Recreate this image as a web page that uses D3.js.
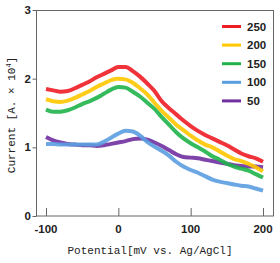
<!DOCTYPE html>
<html>
<head>
<meta charset="utf-8">
<script src="https://cdn.jsdelivr.net/npm/d3@7"></script>
<style>
  body { margin: 0; background: #fff; }
  svg { display: block; }
</style>
</head>
<body>
<div id="chart"></div>
<script>
// potential (mV)
var potentials = [-100, -90, -80, -70, -60, -50, -40, -30, -20, -10, 0, 10, 20, 30, 40, 50, 60, 70, 80, 90, 100, 110, 120, 130, 140, 150, 160, 170, 180, 190, 200];

var s250 = [1.85, 1.83, 1.81, 1.82, 1.86, 1.91, 1.96, 2.02, 2.07, 2.12, 2.17, 2.17, 2.11, 2.03, 1.93, 1.82, 1.67, 1.57, 1.48, 1.39, 1.31, 1.24, 1.18, 1.13, 1.08, 1.03, 0.97, 0.91, 0.87, 0.84, 0.79];
var s200 = [1.70, 1.67, 1.66, 1.68, 1.72, 1.77, 1.82, 1.88, 1.93, 1.98, 2.00, 1.99, 1.94, 1.86, 1.77, 1.65, 1.53, 1.43, 1.33, 1.25, 1.17, 1.10, 1.04, 1.00, 0.94, 0.88, 0.83, 0.80, 0.76, 0.71, 0.65];
var s150 = [1.55, 1.52, 1.52, 1.54, 1.58, 1.63, 1.67, 1.72, 1.78, 1.84, 1.88, 1.87, 1.81, 1.74, 1.65, 1.56, 1.44, 1.33, 1.22, 1.13, 1.06, 1.00, 0.94, 0.87, 0.82, 0.76, 0.72, 0.69, 0.66, 0.61, 0.56];
var s100 = [1.05, 1.05, 1.04, 1.04, 1.04, 1.04, 1.04, 1.04, 1.08, 1.14, 1.20, 1.24, 1.23, 1.17, 1.08, 1.01, 0.95, 0.88, 0.79, 0.72, 0.67, 0.63, 0.58, 0.53, 0.50, 0.48, 0.46, 0.44, 0.43, 0.40, 0.37];
var s50  = [1.15, 1.10, 1.07, 1.05, 1.04, 1.03, 1.03, 1.02, 1.03, 1.05, 1.07, 1.09, 1.12, 1.13, 1.11, 1.07, 1.02, 0.96, 0.90, 0.86, 0.85, 0.84, 0.82, 0.80, 0.78, 0.76, 0.74, 0.73, 0.72, 0.72, 0.71];

var seriesNames = ["250", "200", "150", "100", "50"];
var seriesColors = ["#ee1c25", "#ffc800", "#1fb24a", "#5b9ee0", "#7030a0"];

var xTicks = [-100, 0, 100, 200];
var yTicks = [0, 1, 2, 3];

var width = 280, height = 263;
var svg = d3.select("#chart").append("svg")
  .attr("width", width)
  .attr("height", height);

var x = d3.scaleLinear().domain([-100, 200]).range([46, 263]);
var y = d3.scaleLinear().domain([0, 3]).range([216, 10]);

// 外框
svg.append("rect")
  .attr("x", 36.5).attr("y", 10.5)
  .attr("width", 237).attr("height", 205.5)
  .attr("fill", "none")
  .attr("stroke", "#666")
  .attr("stroke-width", 1);

var tickFont = "'Liberation Sans', Arial, sans-serif";

// x axis, ticks inside
var xAxis = svg.append("g")
  .attr("transform", "translate(0,216)")
  .call(d3.axisTop(x).tickValues(xTicks).tickSize(8).tickFormat(""));
xAxis.select(".domain").remove();
xAxis.selectAll("line").attr("stroke", "#666");
svg.append("g").selectAll("text")
  .data(xTicks)
  .enter()
  .append("text")
  .attr("x", function (d) { return x(d); })
  .attr("y", 233)
  .attr("text-anchor", "middle")
  .style("font-family", tickFont)
  .style("font-weight", "bold")
  .style("font-size", "11.5px")
  .attr("fill", "#222")
  .text(function (d) { return d; });

// y axis, ticks outside
var yAxis = svg.append("g")
  .attr("transform", "translate(36.5,0)")
  .call(d3.axisLeft(y).tickValues(yTicks).tickSize(4).tickFormat(""));
yAxis.select(".domain").remove();
yAxis.selectAll("line").attr("stroke", "#666");
svg.append("g").selectAll("text")
  .data(yTicks)
  .enter()
  .append("text")
  .attr("x", 31)
  .attr("y", function (d) { return y(d) + 4; })
  .attr("text-anchor", "end")
  .style("font-family", tickFont)
  .style("font-weight", "bold")
  .style("font-size", "11.5px")
  .attr("fill", "#222")
  .text(function (d) { return d; });

// axis titles
var titleFont = "'Liberation Mono', 'DejaVu Sans Mono', monospace";
svg.append("text")
  .attr("x", 150)
  .attr("y", 254)
  .attr("text-anchor", "middle")
  .style("font-family", titleFont)
  .style("font-size", "11px")
  .attr("fill", "#222")
  .text("Potential[mV vs. Ag/AgCl]");

var yTitle = svg.append("text")
  .attr("transform", "translate(15,115) rotate(-90)")
  .attr("text-anchor", "middle")
  .style("font-family", titleFont)
  .style("font-size", "11px")
  .attr("fill", "#222");
yTitle.append("tspan").text("Current [A. \u00d7 10");
yTitle.append("tspan").attr("dy", -4).style("font-size", "7px").text("4");
yTitle.append("tspan").attr("dy", 4).text("]");

// lines
var allSeries = [s250, s200, s150, s100, s50];
var line = d3.line()
  .x(function (d, i) { return x(potentials[i]); })
  .y(function (d) { return y(d); })
  .curve(d3.curveMonotoneX);

svg.append("g")
  .selectAll("path")
  .data(allSeries.slice().reverse())
  .enter()
  .append("path")
  .attr("d", function (d) { return line(d); })
  .attr("fill", "none")
  .attr("stroke", function (d, i) { return seriesColors[seriesColors.length - 1 - i]; })
  .attr("stroke-width", 4)
  .attr("stroke-linejoin", "round")
  .attr("stroke-opacity", 0.9);

// legend
var legend = svg.append("g")
  .selectAll("g")
  .data(seriesNames)
  .enter()
  .append("g")
  .attr("transform", function (d, i) { return "translate(0," + (26.5 + i * 18.6) + ")"; });
legend.append("line")
  .attr("x1", 222).attr("x2", 241)
  .attr("y1", 0).attr("y2", 0)
  .attr("stroke", function (d, i) { return seriesColors[i]; })
  .attr("stroke-width", 3);
legend.append("text")
  .attr("x", 247)
  .attr("y", 4)
  .style("font-family", tickFont)
  .style("font-weight", "bold")
  .style("font-size", "11.5px")
  .attr("fill", "#222")
  .text(function (d) { return d; });
</script>
</body>
</html>
